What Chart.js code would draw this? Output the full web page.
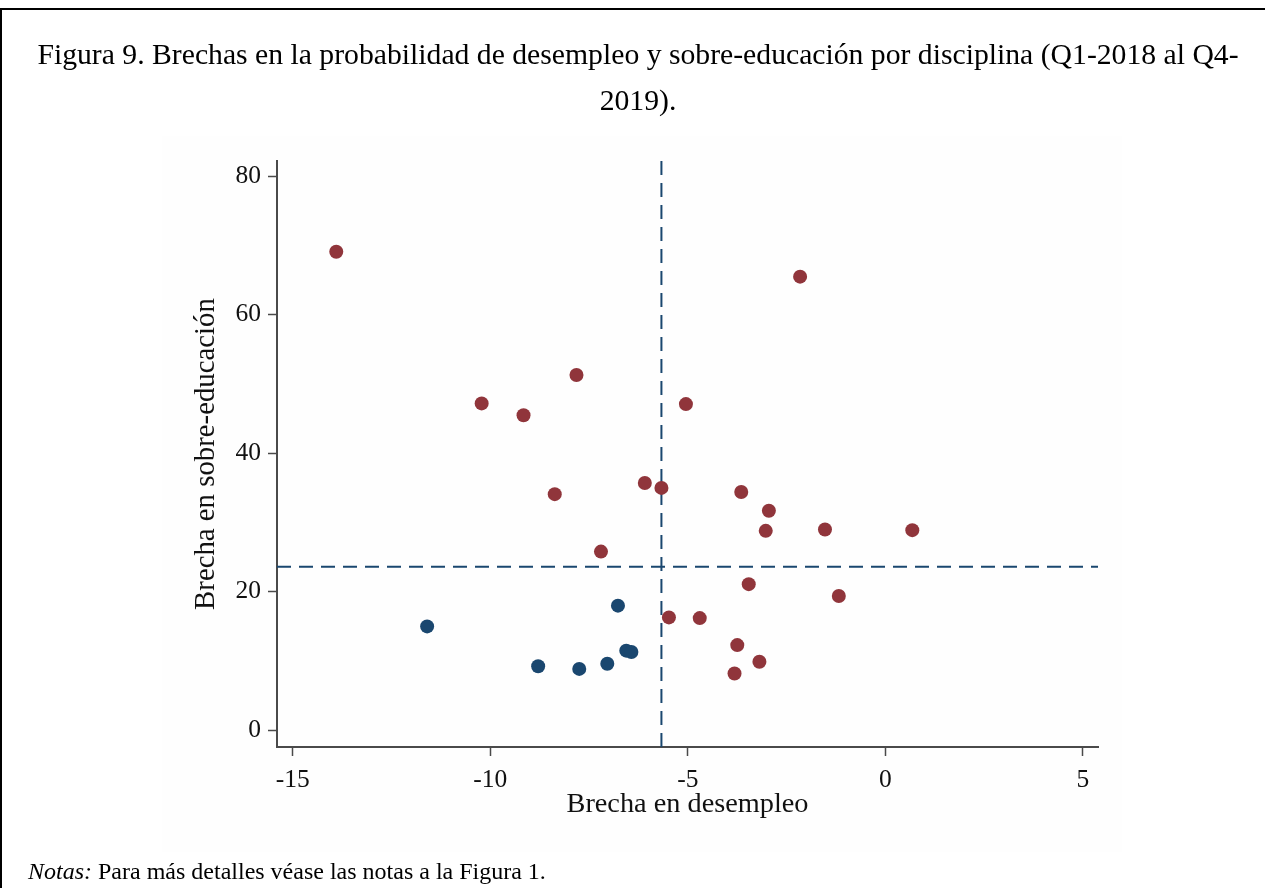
<!DOCTYPE html>
<html lang="es">
<head>
<meta charset="utf-8">
<title>Figura 9</title>
<script src="https://cdn.jsdelivr.net/npm/chart.js@4/dist/chart.umd.min.js"></script>
<style>
  html, body { margin: 0; padding: 0; background: #ffffff; }
  #page {
    position: relative; width: 1265px; height: 888px; overflow: hidden;
    font-family: "Liberation Serif", "Times New Roman", serif; color: #000;
  }
  #frameTop  { position: absolute; left: 0; top: 8px; width: 1265px; height: 2px; background: #000; }
  #frameLeft { position: absolute; left: 0; top: 8px; width: 2px; height: 880px; background: #000; }
  #panel { position: absolute; left: 162px; top: 136px; width: 960px; height: 716px; background: #fefefe; }
  #title {
    position: absolute; left: 0; width: 1276px; top: 31px;
    text-align: center; font-size: 29.7px; line-height: 46px; white-space: nowrap;
  }
  #notes {
    position: absolute; left: 28px; top: 857px;
    font-size: 24px; line-height: 28px; white-space: nowrap;
  }
  #chart { position: absolute; left: 0; top: 0; }
</style>
</head>
<body>
<div id="page">
  <div id="frameTop"></div>
  <div id="frameLeft"></div>
  <div id="panel"></div>
  <canvas id="chart" width="1265" height="888"></canvas>
  <div id="title">Figura 9. Brechas en la probabilidad de desempleo y sobre-educación por disciplina (Q1-2018 al Q4-<br>2019).</div>
  <div id="notes"><i>Notas:</i> Para más detalles véase las notas a la Figura 1.</div>
</div>
<script>
// Brechas por disciplina (puntos porcentuales)
// Disciplinas con al menos una brecha por encima del promedio
const gapUnempOther = [-13.90, -2.16, -7.82, -10.22, -9.16, -5.05, -8.37, -6.09, -5.67, -3.65, -2.95,
                       -3.03, -1.53, 0.68, -7.20, -3.46, -1.18, -5.48, -4.70, -3.75, -3.19, -3.82];
const gapOvereduOther = [69.1, 65.5, 51.3, 47.2, 45.5, 47.1, 34.1, 35.7, 35.0, 34.4, 31.7,
                         28.8, 29.0, 28.9, 25.8, 21.1, 19.4, 16.3, 16.2, 12.3, 9.9, 8.2];
// Disciplinas con ambas brechas por debajo del promedio
const gapUnempLow = [-11.60, -6.77, -8.79, -7.75, -7.04, -6.56, -6.43];
const gapOvereduLow = [15.0, 18.0, 9.25, 8.87, 9.6, 11.5, 11.3];

// Promedios (líneas de referencia)
const meanUnemp = -5.67;
const meanOveredu = 23.6;

// Ejes
const xRange = [-15.4, 5.38];
const yRange = [-2.41, 82.2];
const xTicks = [-15, -10, -5, 0, 5];
const yTicks = [0, 20, 40, 60, 80];

const RED = '#90353b';
const NAVY = '#1a476f';
const AXIS = '#4a4a4a';
const SERIF = '"Liberation Serif", "Times New Roman", serif';

const toPoints = (xs, ys) => xs.map((x, i) => ({ x: x, y: ys[i] }));

new Chart(document.getElementById('chart'), {
  type: 'scatter',
  data: {
    datasets: [
      {
        label: 'Otras disciplinas',
        data: toPoints(gapUnempOther, gapOvereduOther),
        backgroundColor: RED, borderWidth: 0, pointRadius: 7, order: 0
      },
      {
        label: 'Ambas brechas bajo el promedio',
        data: toPoints(gapUnempLow, gapOvereduLow),
        backgroundColor: NAVY, borderWidth: 0, pointRadius: 7, order: 0
      },
      {
        label: 'Promedio desempleo',
        type: 'line',
        data: [{ x: meanUnemp, y: yRange[0] }, { x: meanUnemp, y: yRange[1] }],
        borderColor: NAVY, borderWidth: 2, borderDash: [14, 8], pointRadius: 0, fill: false, order: 1
      },
      {
        label: 'Promedio sobre-educación',
        type: 'line',
        data: [{ x: xRange[0], y: meanOveredu }, { x: xRange[1], y: meanOveredu }],
        borderColor: NAVY, borderWidth: 2, borderDash: [14, 8], pointRadius: 0, fill: false, order: 1
      }
    ]
  },
  options: {
    responsive: false,
    animation: false,
    devicePixelRatio: 1,
    events: [],
    layout: { padding: { left: 180, right: 167, top: 161, bottom: 0 } },
    plugins: { legend: { display: false }, tooltip: { enabled: false }, title: { display: false } },
    scales: {
      x: {
        type: 'linear', position: 'bottom',
        min: xRange[0], max: xRange[1],
        afterBuildTicks: (s) => { s.ticks = xTicks.map(v => ({ value: v })); },
        afterFit: (s) => { s.height = 141; },
        grid: { drawOnChartArea: false, drawTicks: true, tickLength: 9, tickColor: AXIS, tickWidth: 1.5 },
        border: { display: true, color: AXIS, width: 2 },
        ticks: { color: '#111', padding: 9, maxRotation: 0, autoSkip: false,
                 font: { family: SERIF, size: 25.5 } },
        title: { display: true, text: 'Brecha en desempleo', color: '#111',
                 font: { family: SERIF, size: 28.3 }, padding: { top: 0, bottom: 66 } }
      },
      y: {
        type: 'linear', position: 'left',
        min: yRange[0], max: yRange[1],
        afterBuildTicks: (s) => { s.ticks = yTicks.map(v => ({ value: v })); },
        afterFit: (s) => { s.width = 97; },
        grid: { drawOnChartArea: false, drawTicks: true, tickLength: 9, tickColor: AXIS, tickWidth: 1.5 },
        border: { display: true, color: AXIS, width: 2 },
        ticks: { color: '#111', padding: 7, autoSkip: false,
                 font: { family: SERIF, size: 25.5 } },
        title: { display: true, text: 'Brecha en sobre-educación', color: '#111',
                 font: { family: SERIF, size: 28.8 }, padding: { top: 9, bottom: 0 } }
      }
    }
  }
});
</script>
</body>
</html>
